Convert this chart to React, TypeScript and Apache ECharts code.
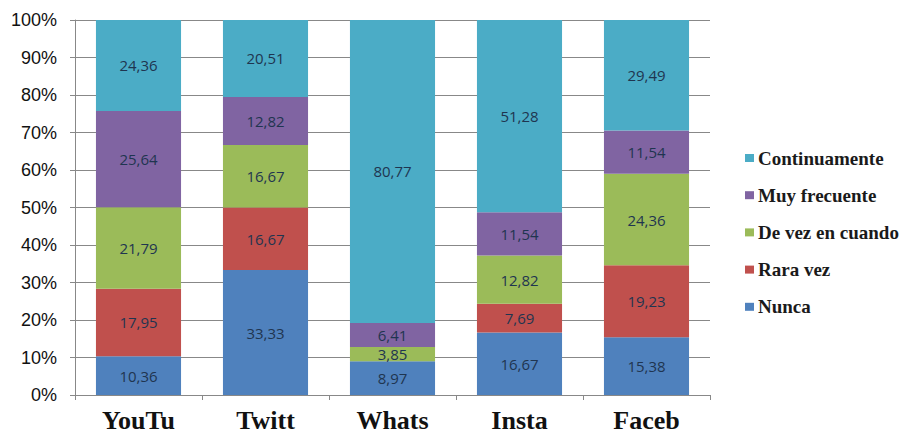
import React, { useEffect, useRef } from "react";
import * as echarts from "echarts";

const categories = ["YouTu", "Twitt", "Whats", "Insta", "Faceb"];
const nunca = [10.36, 33.33, 8.97, 16.67, 15.38];
const raraVez = [17.95, 16.67, 0, 7.69, 19.23];
const deVezEnCuando = [21.79, 16.67, 3.85, 12.82, 24.36];
const muyFrecuente = [25.64, 12.82, 6.41, 11.54, 11.54];
const continuamente = [24.36, 20.51, 80.77, 51.28, 29.49];
const legendOrder = ["Continuamente", "Muy frecuente", "De vez en cuando", "Rara vez", "Nunca"];

const seriesDefs = [
  { name: "Nunca", data: nunca, color: "#4F81BD" },
  { name: "Rara vez", data: raraVez, color: "#C0504D" },
  { name: "De vez en cuando", data: deVezEnCuando, color: "#9BBB59" },
  { name: "Muy frecuente", data: muyFrecuente, color: "#8064A2" },
  { name: "Continuamente", data: continuamente, color: "#4BACC6" },
];

const serif = "Liberation Serif";

// Vertical key on the right: colour swatch plus bold serif label per series
function legendGraphic() {
  const top = 158;
  const step = 37.2;
  const children: any[] = [];
  legendOrder.forEach((name, i) => {
    const def = seriesDefs.find((s) => s.name === name)!;
    const cy = top + i * step;
    children.push({
      type: "rect",
      shape: { x: 745, y: cy - 4, width: 9, height: 8 },
      style: { fill: def.color },
    });
    children.push({
      type: "text",
      x: 758,
      y: cy,
      style: {
        text: name,
        fontFamily: serif,
        fontWeight: "bold",
        fontSize: 19,
        fill: "#1a1a1a",
        verticalAlign: "middle",
        align: "left",
      },
    });
  });
  return [{ type: "group", children }];
}

export default function App() {
  const ref = useRef<HTMLDivElement>(null);
  useEffect(() => {
    if (!ref.current) return;
    const chart = echarts.init(ref.current, null, { renderer: "svg" });
    chart.setOption({
      animation: false,
      backgroundColor: "#ffffff",
      grid: { left: 75, right: 192, top: 20, bottom: 38 },
      graphic: legendGraphic(),
      xAxis: {
        type: "category",
        data: categories,
        axisLine: { lineStyle: { color: "#888", width: 1 } },
        axisTick: { show: true, length: 5, lineStyle: { color: "#888" } },
        axisLabel: {
          fontFamily: serif,
          fontWeight: "bold",
          fontSize: 26,
          color: "#111",
          margin: 12,
        },
      },
      yAxis: {
        type: "value",
        min: 0,
        max: 100,
        interval: 10,
        axisLine: { show: true, lineStyle: { color: "#888" } },
        axisTick: { show: true, length: 5, lineStyle: { color: "#888" } },
        splitLine: { lineStyle: { color: "#888", width: 1 } },
        axisLabel: {
          formatter: "{value}%",
          fontFamily: "Liberation Sans",
          fontSize: 18,
          color: "#111",
          margin: 18,
        },
      },
      series: seriesDefs.map((s) => ({
        name: s.name,
        type: "bar",
        stack: "total",
        barWidth: "67%",
        data: s.data,
        itemStyle: { color: s.color },
        label: {
          show: true,
          position: "inside",
          fontFamily: "Open Sans",
          fontSize: 15,
          color: "#1f3550",
          formatter: (p: any) => (p.value > 0 ? p.value.toFixed(2).replace(".", ",") : ""),
        },
      })),
    });
    return () => chart.dispose();
  }, []);
  return <div ref={ref} style={{ width: 902, height: 433, position: "absolute", left: 0, top: 0 }} />;
}
